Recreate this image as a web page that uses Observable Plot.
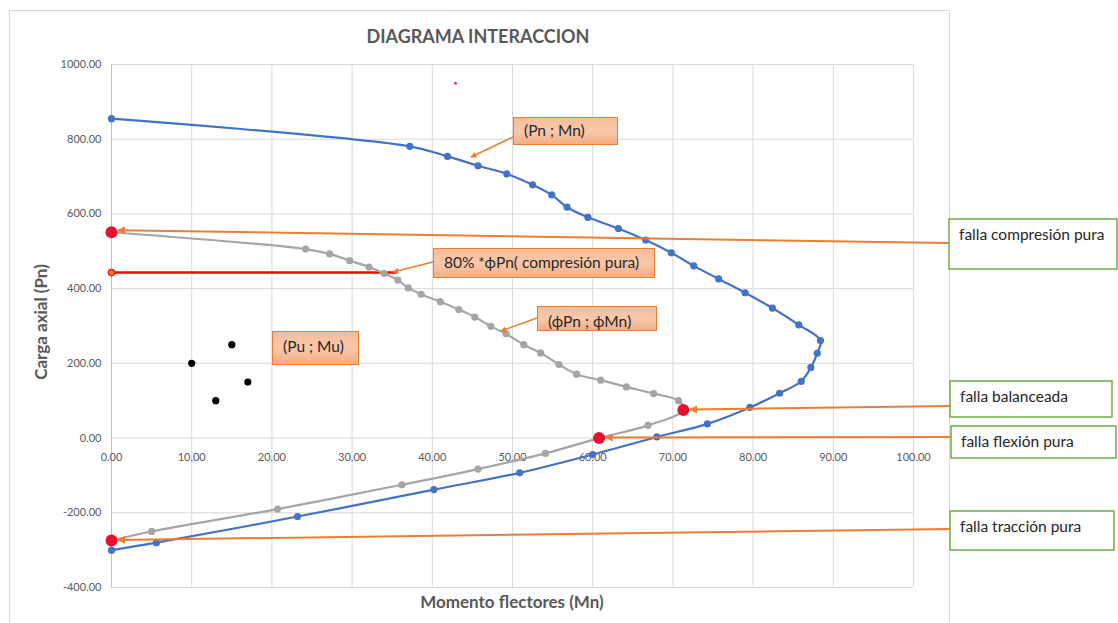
<!DOCTYPE html>
<html><head><meta charset="utf-8">
<script src="https://cdn.jsdelivr.net/npm/d3@7"></script>
<script src="https://cdn.jsdelivr.net/npm/@observablehq/plot@0.6"></script>
<style>
body{margin:0;background:#fff;font-family:Lato,"Open Sans",sans-serif;}
#chart svg{display:block;}
</style>
</head><body><div id="chart"></div>
<script>
// Nominal curve (Pn ; Mn)
const nominalM = [0, 37.2, 41.9, 45.7, 49.3, 52.5, 54.9, 56.8, 59.4, 63.2, 66.6, 69.8, 72.6, 75.7, 79.0, 82.4, 85.7, 88.4, 88.0, 87.2, 86.0, 83.3, 79.6, 74.3, 68.0, 60.0, 50.9, 40.2, 23.2, 5.6, 0];
const nominalP = [855, 781, 754, 729, 707, 678, 651, 618, 591, 561, 530, 496, 461, 426, 389, 348, 303, 261, 227, 189, 152, 120, 82, 38, 3, -44, -93, -138, -210, -280, -300];
// Design curve (φPn ; φMn)
const designM = [0, 24.2, 27.2, 29.7, 32.1, 34.0, 35.7, 37.0, 38.6, 41.0, 43.3, 45.3, 47.3, 49.2, 51.4, 53.5, 55.8, 58.0, 61.0, 64.2, 67.6, 70.7, 71.3, 66.9, 60.8, 54.1, 45.7, 36.2, 20.7, 5.0, 0];
const designP = [551, 506, 493, 475, 458, 441, 423, 402, 385, 365, 344, 324, 299, 279, 250, 228, 197, 171, 155, 137, 119, 100, 75, 34, 0, -41, -83, -125, -190, -250, -274];
// Loads (Pu ; Mu)
const loadM = [15, 10, 17, 13];
const loadP = [250, 200, 150, 100];
// Failure points
const failM = [0, 71.3, 60.8, 0];
const failP = [551, 75, 0, -274];
const failLabels = ["falla compresión pura", "falla balanceada", "falla flexión pura", "falla tracción pura"];
// 80% φPn limit line
const limitM = [0, 35.5];
const limitP = [443, 443];
// stray marker
const strayM = [42.9];
const strayP = [950];
// ticks
const xTicks = [0, 10, 20, 30, 40, 50, 60, 70, 80, 90, 100];
const yTicks = [-400, -200, 0, 200, 400, 600, 800, 1000];

const zip = (a, b) => a.map((m, i) => ({M: m, P: b[i]}));
const nominal = zip(nominalM, nominalP);
const design = zip(designM, designP);
const loads = zip(loadM, loadP);
const fails = zip(failM, failP).map((d, i) => ({...d, label: failLabels[i]}));
const limit = zip(limitM, limitP);
const stray = zip(strayM, strayP);

const fmt = d => d.toFixed(2);

const plot = Plot.plot({
  width: 1118, height: 623,
  marginLeft: 111, marginRight: 205, marginTop: 64, marginBottom: 36,
  x: {domain: [0, 100], axis: null},
  y: {domain: [-400, 1000], axis: null},
  style: {fontFamily: "Lato, 'Open Sans', sans-serif", fontSize: "11px", color: "#595959", background: "transparent", overflow: "visible"},
  marks: [
    Plot.gridX(xTicks, {stroke: "#d9d9d9", strokeOpacity: 1, strokeWidth: 1}),
    Plot.gridY(yTicks, {stroke: "#d9d9d9", strokeOpacity: 1, strokeWidth: 1}),
    Plot.ruleX([0], {stroke: "#bfbfbf", strokeWidth: 1}),
    Plot.axisY(yTicks, {tickSize: 0, tickPadding: 10, tickFormat: fmt, label: null, fill: "#595959", fontSize: 11}),
    Plot.text(xTicks, {x: d => d, y: 0, dy: 19, text: fmt, fill: "#595959", fontSize: 11}),
    Plot.line(limit, {x: "M", y: "P", stroke: "#ff0000", strokeWidth: 2.5}),
    Plot.dot(limit.slice(0, 1), {x: "M", y: "P", r: 3.2, fill: "#f47b20", stroke: "#ff0000", strokeWidth: 1.2}),
    Plot.line(design, {x: "M", y: "P", stroke: "#a5a5a5", strokeWidth: 2.2, curve: "catmull-rom"}),
    Plot.dot(design, {x: "M", y: "P", r: 3.6, fill: "#a5a5a5"}),
    Plot.line(nominal, {x: "M", y: "P", stroke: "#4472c4", strokeWidth: 2.2, curve: "catmull-rom"}),
    Plot.dot(nominal, {x: "M", y: "P", r: 3.6, fill: "#4472c4"}),
    Plot.dot(loads, {x: "M", y: "P", r: 3.6, fill: "#000"}),
    Plot.dot(fails, {x: "M", y: "P", r: 6, fill: "#e8112d"}),
    Plot.dot(stray, {x: "M", y: "P", r: 1.3, fill: "#e8112d"})
  ]
});
document.getElementById("chart").appendChild(plot);

const X = plot.scale("x"), Y = plot.scale("y");
const svg = d3.select(plot);
const font = "Lato, 'Open Sans', sans-serif";

// outer chart border (behind everything)
svg.insert("rect", ":first-child")
  .attr("x", 9.5).attr("y", 10.5).attr("width", 940).attr("height", 640)
  .attr("fill", "#fff").attr("stroke", "#d9d9d9").attr("stroke-width", 1);

const defs = svg.append("defs");
defs.append("marker").attr("id", "arr").attr("viewBox", "0 0 10 10")
  .attr("refX", 9).attr("refY", 5).attr("markerWidth", 4).attr("markerHeight", 4)
  .attr("markerUnits", "strokeWidth").attr("orient", "auto")
  .append("path").attr("d", "M0,0L10,5L0,10z").attr("fill", "#ed7d31");
const grad = defs.append("linearGradient").attr("id", "og").attr("x1", 0).attr("y1", 0).attr("x2", 0).attr("y2", 1);
grad.append("stop").attr("offset", "0%").attr("stop-color", "#f6bc99");
grad.append("stop").attr("offset", "50%").attr("stop-color", "#f8c8ab");
grad.append("stop").attr("offset", "100%").attr("stop-color", "#f3ad82");

// titles
svg.append("text").attr("x", 478).attr("y", 43).attr("text-anchor", "middle")
  .attr("font-family", font).attr("font-size", 18).attr("font-weight", 700).attr("fill", "#595959")
  .text("DIAGRAMA INTERACCION");
svg.append("text").attr("x", 512).attr("y", 608).attr("text-anchor", "middle")
  .attr("font-family", font).attr("font-size", 17).attr("font-weight", 700).attr("fill", "#595959")
  .text("Momento flectores (Mn)");
svg.append("text").attr("transform", "translate(47,322) rotate(-90)").attr("text-anchor", "middle")
  .attr("font-family", font).attr("font-size", 17).attr("font-weight", 700).attr("fill", "#595959")
  .text("Carga axial (Pn)");

// callouts inside the plot
const callouts = [
  {text: "(Pn ; Mn)", x: 513, y: 117, w: 104, h: 27, tx: 524, ty: 131, a: [513, 137, 471, 157]},
  {text: "80% *\u03d5Pn( compresión pura)", x: 433, y: 248, w: 221, h: 29, tx: 444, ty: 263, a: [433, 262, 393, 272]},
  {text: "(\u03d5Pn ; \u03d5Mn)", x: 537, y: 306, w: 119, h: 24, tx: 548, ty: 322, a: [537, 318, 501, 331]},
  {text: "(Pu ; Mu)", x: 272, y: 331, w: 86, h: 33, tx: 283, ty: 347, a: null}
];
callouts.forEach(c => {
  if (c.a) svg.append("line").attr("x1", c.a[0]).attr("y1", c.a[1]).attr("x2", c.a[2]).attr("y2", c.a[3])
    .attr("stroke", "#ed7d31").attr("stroke-width", 1.5).attr("marker-end", "url(#arr)");
  svg.append("rect").attr("x", c.x + 0.5).attr("y", c.y + 0.5).attr("width", c.w).attr("height", c.h)
    .attr("fill", "url(#og)").attr("stroke", "#ed7d31").attr("stroke-width", 1);
  svg.append("text").attr("x", c.tx).attr("y", c.ty).attr("dy", "0.35em").attr("text-anchor", "start")
    .attr("font-family", font).attr("font-size", 15.5).attr("fill", "#262626").text(c.text);
});

// failure label boxes on the right
const boxes = [
  {x: 949, y: 219, w: 169, h: 50, ty: 235, sy: 243},
  {x: 950, y: 381, w: 163, h: 36, ty: 397, sy: 406},
  {x: 951, y: 426, w: 166, h: 32, ty: 442, sy: 437},
  {x: 950, y: 511, w: 165, h: 39, ty: 527, sy: 529}
];
fails.forEach((f, i) => {
  const b = boxes[i];
  svg.append("line").attr("x1", b.x).attr("y1", b.sy)
    .attr("x2", X.apply(f.M) + 7).attr("y2", Y.apply(f.P) - (i === 0 ? 1.5 : 0))
    .attr("stroke", "#ed7d31").attr("stroke-width", 2).attr("marker-end", "url(#arr)");
});
fails.forEach((f, i) => {
  const b = boxes[i];
  svg.append("rect").attr("x", b.x).attr("y", b.y).attr("width", b.w - 1).attr("height", b.h)
    .attr("fill", "#fff").attr("stroke", "#70ad47").attr("stroke-width", 1.5);
  svg.append("text").attr("x", b.x + 10).attr("y", b.ty).attr("dy", "0.35em").attr("text-anchor", "start")
    .attr("font-family", font).attr("font-size", 15.5).attr("fill", "#262626").text(f.label);
});
</script>
</body></html>
